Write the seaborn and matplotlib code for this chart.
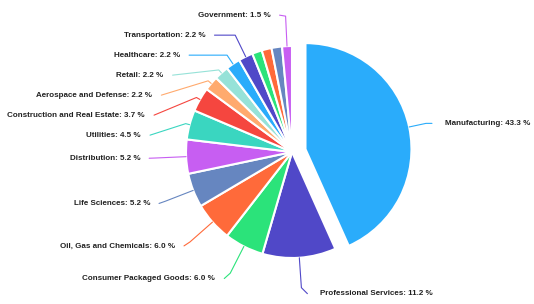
import numpy as np
import matplotlib
matplotlib.use("Agg")
import matplotlib.pyplot as plt
import seaborn as sns

# industries clockwise from 12 o'clock (three small slices have no label)
industries = ["Manufacturing", "Professional Services", "Consumer Packaged Goods",
              "Oil, Gas and Chemicals", "Life Sciences", "Distribution", "Utilities",
              "Construction and Real Estate", "Aerospace and Defense", "Retail",
              "Healthcare", "Transportation", "", "", "", "Government"]
shares = [43.3, 11.2, 6.0, 6.0, 5.2, 5.2, 4.5, 3.7, 2.2, 2.2, 2.2, 2.2, 1.5, 1.5, 1.6, 1.5]

base_colors = ["#2aacfb", "#5048c8", "#2be37a", "#ff6a3a", "#6686c0",
               "#c75ef2", "#3ad6c0", "#f5463f", "#ffaa6e", "#96e2d8"]

# layout in pixel units
W, H = 534, 304
cx, cy, r = 292, 152, 106
R = r + 31       # label ring
R_low = R + 5    # label ring below the centre sits a bit lower
gap_y = 20       # min vertical distance between labels
len2 = 6         # horizontal part of leader line
pad = {-1: 9, 1: 13}   # space between line and text, per side

sns.set_theme(style="white")
plt.rcParams["font.family"] = ["Liberation Sans", "DejaVu Sans"]

colors = sns.color_palette(base_colors, n_colors=len(shares))

fig = plt.figure(figsize=(W / 100, H / 100), dpi=100)
ax = fig.add_axes([0, 0, 1, 1])

explode = [0.13 * r if i == 0 else 0 for i in range(len(shares))]
wedges, _ = ax.pie(shares, colors=colors, startangle=90, counterclock=False,
                   explode=explode, center=(cx, cy), radius=r,
                   wedgeprops=dict(edgecolor="white", linewidth=1.5))

# collect label anchors from the wedges
items = []
for w, name, val in zip(wedges, industries, shares):
    if not name:
        continue
    th = np.deg2rad((w.theta1 + w.theta2) / 2)
    ux, uy = np.cos(th), np.sin(th)
    ring = R if uy >= 0 else R_low
    items.append(dict(
        text=f"{name}: {val:.1f} %", color=w.get_facecolor(),
        ux=ux, uy=uy,
        x0=w.center[0] + w.r * ux, y0=w.center[1] + w.r * uy,
        side=1 if ux >= 0 else -1, y=cy + ring * uy))

# push overlapping labels down, per side
for side in (-1, 1):
    group = sorted([it for it in items if it["side"] == side], key=lambda it: -it["y"])
    for prev, cur in zip(group, group[1:]):
        cur["y"] = min(cur["y"], prev["y"] - gap_y)

for it in items:
    side = it["side"]
    if abs(it["uy"]) > 1e-6:
        t = (it["y"] - it["y0"]) / it["uy"]
    else:
        t = 30
    t = np.clip(t, 4, 30)
    x1 = it["x0"] + t * it["ux"]
    y1 = it["y0"] + t * it["uy"]
    dy = it["y"] - cy
    xc = cx + side * np.sqrt(max(R ** 2 - dy ** 2, 0))
    x2 = min(xc, x1) - len2 if side < 0 else max(xc, x1) + len2
    ax.plot([it["x0"], x1, x2], [it["y0"], y1, it["y"]], color=it["color"], lw=0.8)
    ax.text(x2 + side * pad[side], it["y"], it["text"], ha="right" if side < 0 else "left",
            va="center", fontsize=5.8, fontweight="bold", color="#222222")

ax.set_xlim(0, W)
ax.set_ylim(0, H)
ax.set_aspect("equal")
ax.axis("off")

fig.savefig("out.png", dpi=100)
